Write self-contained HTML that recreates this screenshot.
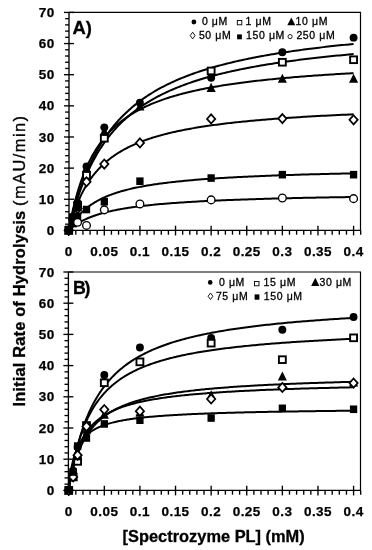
<!DOCTYPE html>
<html><head><meta charset="utf-8"><style>
html,body{margin:0;padding:0;background:#fff;width:372px;height:550px;overflow:hidden}
svg{display:block;will-change:transform}
text{font-family:"Liberation Sans",sans-serif;fill:#000}
.tl{font-weight:bold;font-size:13.5px;letter-spacing:0.45px;stroke:#000;stroke-width:0.25px}
.lg{font-size:10.5px;letter-spacing:0.6px;stroke:#000;stroke-width:0.3px}
.pl{font-weight:bold;font-size:18.4px;stroke:#000;stroke-width:0.3px}
.at{font-weight:bold;font-size:16.4px;stroke:#000;stroke-width:0.3px}
.nb{font-weight:normal;stroke-width:0.35px}
</style></head><body>
<svg width="372" height="550" viewBox="0 0 372 550">
<rect width="372" height="550" fill="#fff"/>
<path d="M69.00 12.42 H360.5 V230.40" fill="none" stroke="#000" stroke-width="1.2"/>
<line x1="69.00" y1="12.42" x2="69.00" y2="230.40" stroke="#000" stroke-width="1.35"/>
<line x1="64.00" y1="230.40" x2="74.00" y2="230.40" stroke="#000" stroke-width="1.35"/>
<line x1="65.10" y1="224.17" x2="69.00" y2="224.17" stroke="#000" stroke-width="1.35"/>
<line x1="65.10" y1="217.94" x2="69.00" y2="217.94" stroke="#000" stroke-width="1.35"/>
<line x1="65.10" y1="211.72" x2="69.00" y2="211.72" stroke="#000" stroke-width="1.35"/>
<line x1="65.10" y1="205.49" x2="69.00" y2="205.49" stroke="#000" stroke-width="1.35"/>
<line x1="64.00" y1="199.26" x2="74.00" y2="199.26" stroke="#000" stroke-width="1.35"/>
<line x1="65.10" y1="193.03" x2="69.00" y2="193.03" stroke="#000" stroke-width="1.35"/>
<line x1="65.10" y1="186.80" x2="69.00" y2="186.80" stroke="#000" stroke-width="1.35"/>
<line x1="65.10" y1="180.58" x2="69.00" y2="180.58" stroke="#000" stroke-width="1.35"/>
<line x1="65.10" y1="174.35" x2="69.00" y2="174.35" stroke="#000" stroke-width="1.35"/>
<line x1="64.00" y1="168.12" x2="74.00" y2="168.12" stroke="#000" stroke-width="1.35"/>
<line x1="65.10" y1="161.89" x2="69.00" y2="161.89" stroke="#000" stroke-width="1.35"/>
<line x1="65.10" y1="155.66" x2="69.00" y2="155.66" stroke="#000" stroke-width="1.35"/>
<line x1="65.10" y1="149.44" x2="69.00" y2="149.44" stroke="#000" stroke-width="1.35"/>
<line x1="65.10" y1="143.21" x2="69.00" y2="143.21" stroke="#000" stroke-width="1.35"/>
<line x1="64.00" y1="136.98" x2="74.00" y2="136.98" stroke="#000" stroke-width="1.35"/>
<line x1="65.10" y1="130.75" x2="69.00" y2="130.75" stroke="#000" stroke-width="1.35"/>
<line x1="65.10" y1="124.52" x2="69.00" y2="124.52" stroke="#000" stroke-width="1.35"/>
<line x1="65.10" y1="118.30" x2="69.00" y2="118.30" stroke="#000" stroke-width="1.35"/>
<line x1="65.10" y1="112.07" x2="69.00" y2="112.07" stroke="#000" stroke-width="1.35"/>
<line x1="64.00" y1="105.84" x2="74.00" y2="105.84" stroke="#000" stroke-width="1.35"/>
<line x1="65.10" y1="99.61" x2="69.00" y2="99.61" stroke="#000" stroke-width="1.35"/>
<line x1="65.10" y1="93.38" x2="69.00" y2="93.38" stroke="#000" stroke-width="1.35"/>
<line x1="65.10" y1="87.16" x2="69.00" y2="87.16" stroke="#000" stroke-width="1.35"/>
<line x1="65.10" y1="80.93" x2="69.00" y2="80.93" stroke="#000" stroke-width="1.35"/>
<line x1="64.00" y1="74.70" x2="74.00" y2="74.70" stroke="#000" stroke-width="1.35"/>
<line x1="65.10" y1="68.47" x2="69.00" y2="68.47" stroke="#000" stroke-width="1.35"/>
<line x1="65.10" y1="62.24" x2="69.00" y2="62.24" stroke="#000" stroke-width="1.35"/>
<line x1="65.10" y1="56.02" x2="69.00" y2="56.02" stroke="#000" stroke-width="1.35"/>
<line x1="65.10" y1="49.79" x2="69.00" y2="49.79" stroke="#000" stroke-width="1.35"/>
<line x1="64.00" y1="43.56" x2="74.00" y2="43.56" stroke="#000" stroke-width="1.35"/>
<line x1="65.10" y1="37.33" x2="69.00" y2="37.33" stroke="#000" stroke-width="1.35"/>
<line x1="65.10" y1="31.10" x2="69.00" y2="31.10" stroke="#000" stroke-width="1.35"/>
<line x1="65.10" y1="24.88" x2="69.00" y2="24.88" stroke="#000" stroke-width="1.35"/>
<line x1="65.10" y1="18.65" x2="69.00" y2="18.65" stroke="#000" stroke-width="1.35"/>
<line x1="64.00" y1="12.42" x2="74.00" y2="12.42" stroke="#000" stroke-width="1.35"/>
<line x1="69.00" y1="230.40" x2="360.70" y2="230.40" stroke="#000" stroke-width="1.35"/>
<line x1="68.70" y1="225.70" x2="68.70" y2="235.40" stroke="#000" stroke-width="1.35"/>
<line x1="75.82" y1="230.40" x2="75.82" y2="234.70" stroke="#000" stroke-width="1.35"/>
<line x1="82.94" y1="230.40" x2="82.94" y2="234.70" stroke="#000" stroke-width="1.35"/>
<line x1="90.07" y1="230.40" x2="90.07" y2="234.70" stroke="#000" stroke-width="1.35"/>
<line x1="97.19" y1="230.40" x2="97.19" y2="234.70" stroke="#000" stroke-width="1.35"/>
<line x1="104.31" y1="225.70" x2="104.31" y2="235.40" stroke="#000" stroke-width="1.35"/>
<line x1="111.43" y1="230.40" x2="111.43" y2="234.70" stroke="#000" stroke-width="1.35"/>
<line x1="118.55" y1="230.40" x2="118.55" y2="234.70" stroke="#000" stroke-width="1.35"/>
<line x1="125.68" y1="230.40" x2="125.68" y2="234.70" stroke="#000" stroke-width="1.35"/>
<line x1="132.80" y1="230.40" x2="132.80" y2="234.70" stroke="#000" stroke-width="1.35"/>
<line x1="139.92" y1="225.70" x2="139.92" y2="235.40" stroke="#000" stroke-width="1.35"/>
<line x1="147.04" y1="230.40" x2="147.04" y2="234.70" stroke="#000" stroke-width="1.35"/>
<line x1="154.16" y1="230.40" x2="154.16" y2="234.70" stroke="#000" stroke-width="1.35"/>
<line x1="161.29" y1="230.40" x2="161.29" y2="234.70" stroke="#000" stroke-width="1.35"/>
<line x1="168.41" y1="230.40" x2="168.41" y2="234.70" stroke="#000" stroke-width="1.35"/>
<line x1="175.53" y1="225.70" x2="175.53" y2="235.40" stroke="#000" stroke-width="1.35"/>
<line x1="182.65" y1="230.40" x2="182.65" y2="234.70" stroke="#000" stroke-width="1.35"/>
<line x1="189.77" y1="230.40" x2="189.77" y2="234.70" stroke="#000" stroke-width="1.35"/>
<line x1="196.90" y1="230.40" x2="196.90" y2="234.70" stroke="#000" stroke-width="1.35"/>
<line x1="204.02" y1="230.40" x2="204.02" y2="234.70" stroke="#000" stroke-width="1.35"/>
<line x1="211.14" y1="225.70" x2="211.14" y2="235.40" stroke="#000" stroke-width="1.35"/>
<line x1="218.26" y1="230.40" x2="218.26" y2="234.70" stroke="#000" stroke-width="1.35"/>
<line x1="225.38" y1="230.40" x2="225.38" y2="234.70" stroke="#000" stroke-width="1.35"/>
<line x1="232.51" y1="230.40" x2="232.51" y2="234.70" stroke="#000" stroke-width="1.35"/>
<line x1="239.63" y1="230.40" x2="239.63" y2="234.70" stroke="#000" stroke-width="1.35"/>
<line x1="246.75" y1="225.70" x2="246.75" y2="235.40" stroke="#000" stroke-width="1.35"/>
<line x1="253.87" y1="230.40" x2="253.87" y2="234.70" stroke="#000" stroke-width="1.35"/>
<line x1="260.99" y1="230.40" x2="260.99" y2="234.70" stroke="#000" stroke-width="1.35"/>
<line x1="268.12" y1="230.40" x2="268.12" y2="234.70" stroke="#000" stroke-width="1.35"/>
<line x1="275.24" y1="230.40" x2="275.24" y2="234.70" stroke="#000" stroke-width="1.35"/>
<line x1="282.36" y1="225.70" x2="282.36" y2="235.40" stroke="#000" stroke-width="1.35"/>
<line x1="289.48" y1="230.40" x2="289.48" y2="234.70" stroke="#000" stroke-width="1.35"/>
<line x1="296.60" y1="230.40" x2="296.60" y2="234.70" stroke="#000" stroke-width="1.35"/>
<line x1="303.73" y1="230.40" x2="303.73" y2="234.70" stroke="#000" stroke-width="1.35"/>
<line x1="310.85" y1="230.40" x2="310.85" y2="234.70" stroke="#000" stroke-width="1.35"/>
<line x1="317.97" y1="225.70" x2="317.97" y2="235.40" stroke="#000" stroke-width="1.35"/>
<line x1="325.09" y1="230.40" x2="325.09" y2="234.70" stroke="#000" stroke-width="1.35"/>
<line x1="332.21" y1="230.40" x2="332.21" y2="234.70" stroke="#000" stroke-width="1.35"/>
<line x1="339.34" y1="230.40" x2="339.34" y2="234.70" stroke="#000" stroke-width="1.35"/>
<line x1="346.46" y1="230.40" x2="346.46" y2="234.70" stroke="#000" stroke-width="1.35"/>
<line x1="353.58" y1="225.70" x2="353.58" y2="235.40" stroke="#000" stroke-width="1.35"/>
<line x1="360.70" y1="230.40" x2="360.70" y2="234.70" stroke="#000" stroke-width="1.35"/>
<text class="tl" x="54.6" y="235.00" text-anchor="end">0</text>
<text class="tl" x="54.6" y="203.86" text-anchor="end">10</text>
<text class="tl" x="54.6" y="172.72" text-anchor="end">20</text>
<text class="tl" x="54.6" y="141.58" text-anchor="end">30</text>
<text class="tl" x="54.6" y="110.44" text-anchor="end">40</text>
<text class="tl" x="54.6" y="79.30" text-anchor="end">50</text>
<text class="tl" x="54.6" y="48.16" text-anchor="end">60</text>
<text class="tl" x="54.6" y="17.02" text-anchor="end">70</text>
<text class="tl" x="68.70" y="255.90" text-anchor="middle">0</text>
<text class="tl" x="104.31" y="255.90" text-anchor="middle">0.05</text>
<text class="tl" x="139.92" y="255.90" text-anchor="middle">0.1</text>
<text class="tl" x="175.53" y="255.90" text-anchor="middle">0.15</text>
<text class="tl" x="211.14" y="255.90" text-anchor="middle">0.2</text>
<text class="tl" x="246.75" y="255.90" text-anchor="middle">0.25</text>
<text class="tl" x="282.36" y="255.90" text-anchor="middle">0.3</text>
<text class="tl" x="317.97" y="255.90" text-anchor="middle">0.35</text>
<text class="tl" x="353.58" y="255.90" text-anchor="middle">0.4</text>
<path d="M68.70 230.40 L68.70 230.38 L68.72 230.31 L68.74 230.20 L68.78 230.05 L68.82 229.85 L68.88 229.61 L68.94 229.33 L69.02 229.00 L69.10 228.63 L69.19 228.22 L69.30 227.77 L69.41 227.28 L69.54 226.75 L69.67 226.18 L69.81 225.56 L69.97 224.92 L70.13 224.23 L70.30 223.50 L70.49 222.74 L70.68 221.95 L70.88 221.12 L71.09 220.26 L71.32 219.36 L71.55 218.43 L71.79 217.48 L72.04 216.49 L72.31 215.47 L72.58 214.43 L72.86 213.36 L73.15 212.26 L73.45 211.14 L73.76 210.00 L74.09 208.83 L74.42 207.64 L74.76 206.43 L75.11 205.20 L75.47 203.95 L75.84 202.69 L76.22 201.41 L76.61 200.11 L77.01 198.80 L77.42 197.47 L77.84 196.13 L78.28 194.78 L78.72 193.42 L79.17 192.05 L79.63 190.67 L80.10 189.29 L80.57 187.89 L81.06 186.49 L81.56 185.09 L82.07 183.67 L82.59 182.26 L83.12 180.84 L83.66 179.42 L84.21 178.00 L84.77 176.57 L85.34 175.15 L85.92 173.73 L86.51 172.30 L87.10 170.88 L87.71 169.46 L88.33 168.05 L88.96 166.63 L89.60 165.22 L90.24 163.82 L90.90 162.42 L91.57 161.02 L92.25 159.63 L92.93 158.25 L93.63 156.87 L94.34 155.50 L95.06 154.13 L95.78 152.78 L96.52 151.43 L97.27 150.09 L98.02 148.75 L98.79 147.43 L99.57 146.11 L100.35 144.81 L101.15 143.51 L101.96 142.22 L102.77 140.94 L103.60 139.67 L104.43 138.41 L105.28 137.16 L106.14 135.93 L107.00 134.70 L107.88 133.48 L108.76 132.27 L109.66 131.08 L110.56 129.89 L111.48 128.71 L112.40 127.55 L113.34 126.40 L114.28 125.25 L115.24 124.12 L116.20 123.00 L117.17 121.89 L118.16 120.79 L119.15 119.70 L120.16 118.63 L121.17 117.56 L122.19 116.51 L123.23 115.46 L124.27 114.43 L125.32 113.41 L126.39 112.40 L127.46 111.40 L128.54 110.41 L129.64 109.43 L130.74 108.46 L131.85 107.50 L132.98 106.55 L134.11 105.62 L135.25 104.69 L136.40 103.77 L137.57 102.87 L138.74 101.97 L139.92 101.09 L141.11 100.21 L142.31 99.34 L143.53 98.49 L144.75 97.64 L145.98 96.81 L147.22 95.98 L148.47 95.16 L149.73 94.35 L151.00 93.55 L152.28 92.77 L153.58 91.99 L154.88 91.21 L156.19 90.45 L157.51 89.70 L158.84 88.95 L160.18 88.22 L161.53 87.49 L162.89 86.77 L164.26 86.06 L165.64 85.36 L167.03 84.67 L168.43 83.98 L169.84 83.30 L171.26 82.64 L172.69 81.97 L174.13 81.32 L175.57 80.67 L177.03 80.04 L178.50 79.40 L179.98 78.78 L181.47 78.16 L182.97 77.56 L184.48 76.95 L186.00 76.36 L187.52 75.77 L189.06 75.19 L190.61 74.62 L192.17 74.05 L193.74 73.49 L195.31 72.93 L196.90 72.39 L198.50 71.84 L200.11 71.31 L201.72 70.78 L203.35 70.26 L204.99 69.74 L206.63 69.23 L208.29 68.73 L209.96 68.23 L211.63 67.73 L213.32 67.25 L215.02 66.77 L216.72 66.29 L218.44 65.82 L220.17 65.35 L221.90 64.89 L223.65 64.44 L225.40 63.99 L227.17 63.55 L228.94 63.11 L230.73 62.67 L232.53 62.24 L234.33 61.82 L236.15 61.40 L237.97 60.98 L239.81 60.57 L241.65 60.17 L243.51 59.77 L245.37 59.37 L247.24 58.98 L249.13 58.59 L251.02 58.21 L252.93 57.83 L254.84 57.45 L256.77 57.08 L258.70 56.72 L260.64 56.35 L262.60 55.99 L264.56 55.64 L266.53 55.29 L268.52 54.94 L270.51 54.60 L272.51 54.26 L274.53 53.92 L276.55 53.59 L278.58 53.26 L280.62 52.94 L282.68 52.62 L284.74 52.30 L286.81 51.98 L288.89 51.67 L290.99 51.37 L293.09 51.06 L295.20 50.76 L297.32 50.46 L299.45 50.17 L301.59 49.88 L303.75 49.59 L305.91 49.30 L308.08 49.02 L310.26 48.74 L312.45 48.46 L314.65 48.19 L316.86 47.92 L319.08 47.65 L321.31 47.38 L323.55 47.12 L325.80 46.86 L328.06 46.60 L330.33 46.35 L332.61 46.10 L334.90 45.85 L337.20 45.60 L339.51 45.36 L341.83 45.11 L344.16 44.87 L346.50 44.64 L348.85 44.40 L351.21 44.17 L353.58 43.94" fill="none" stroke="#000" stroke-width="2.0" stroke-linejoin="round"/>
<path d="M68.70 230.40 L68.70 230.38 L68.72 230.32 L68.74 230.21 L68.78 230.06 L68.82 229.87 L68.88 229.64 L68.94 229.37 L69.02 229.05 L69.10 228.70 L69.19 228.30 L69.30 227.87 L69.41 227.39 L69.54 226.88 L69.67 226.33 L69.81 225.74 L69.97 225.11 L70.13 224.45 L70.30 223.75 L70.49 223.02 L70.68 222.25 L70.88 221.46 L71.09 220.62 L71.32 219.76 L71.55 218.87 L71.79 217.95 L72.04 217.00 L72.31 216.02 L72.58 215.02 L72.86 213.99 L73.15 212.94 L73.45 211.86 L73.76 210.76 L74.09 209.64 L74.42 208.50 L74.76 207.33 L75.11 206.15 L75.47 204.96 L75.84 203.74 L76.22 202.52 L76.61 201.27 L77.01 200.01 L77.42 198.74 L77.84 197.46 L78.28 196.17 L78.72 194.87 L79.17 193.56 L79.63 192.24 L80.10 190.91 L80.57 189.58 L81.06 188.24 L81.56 186.89 L82.07 185.55 L82.59 184.20 L83.12 182.84 L83.66 181.49 L84.21 180.13 L84.77 178.77 L85.34 177.41 L85.92 176.06 L86.51 174.70 L87.10 173.35 L87.71 172.00 L88.33 170.65 L88.96 169.30 L89.60 167.96 L90.24 166.62 L90.90 165.29 L91.57 163.97 L92.25 162.64 L92.93 161.33 L93.63 160.02 L94.34 158.72 L95.06 157.42 L95.78 156.14 L96.52 154.86 L97.27 153.58 L98.02 152.32 L98.79 151.06 L99.57 149.82 L100.35 148.58 L101.15 147.35 L101.96 146.13 L102.77 144.92 L103.60 143.72 L104.43 142.53 L105.28 141.35 L106.14 140.18 L107.00 139.02 L107.88 137.87 L108.76 136.73 L109.66 135.59 L110.56 134.48 L111.48 133.37 L112.40 132.27 L113.34 131.18 L114.28 130.10 L115.24 129.03 L116.20 127.98 L117.17 126.93 L118.16 125.89 L119.15 124.87 L120.16 123.86 L121.17 122.85 L122.19 121.86 L123.23 120.88 L124.27 119.90 L125.32 118.94 L126.39 117.99 L127.46 117.05 L128.54 116.12 L129.64 115.20 L130.74 114.29 L131.85 113.39 L132.98 112.50 L134.11 111.62 L135.25 110.75 L136.40 109.89 L137.57 109.04 L138.74 108.20 L139.92 107.36 L141.11 106.54 L142.31 105.73 L143.53 104.93 L144.75 104.13 L145.98 103.35 L147.22 102.58 L148.47 101.81 L149.73 101.05 L151.00 100.30 L152.28 99.56 L153.58 98.83 L154.88 98.11 L156.19 97.40 L157.51 96.69 L158.84 96.00 L160.18 95.31 L161.53 94.63 L162.89 93.96 L164.26 93.29 L165.64 92.64 L167.03 91.99 L168.43 91.35 L169.84 90.71 L171.26 90.09 L172.69 89.47 L174.13 88.86 L175.57 88.25 L177.03 87.66 L178.50 87.07 L179.98 86.49 L181.47 85.91 L182.97 85.34 L184.48 84.78 L186.00 84.23 L187.52 83.68 L189.06 83.13 L190.61 82.60 L192.17 82.07 L193.74 81.55 L195.31 81.03 L196.90 80.52 L198.50 80.01 L200.11 79.52 L201.72 79.02 L203.35 78.54 L204.99 78.05 L206.63 77.58 L208.29 77.11 L209.96 76.64 L211.63 76.18 L213.32 75.73 L215.02 75.28 L216.72 74.84 L218.44 74.40 L220.17 73.97 L221.90 73.54 L223.65 73.11 L225.40 72.70 L227.17 72.28 L228.94 71.87 L230.73 71.47 L232.53 71.07 L234.33 70.67 L236.15 70.28 L237.97 69.90 L239.81 69.52 L241.65 69.14 L243.51 68.77 L245.37 68.40 L247.24 68.03 L249.13 67.67 L251.02 67.32 L252.93 66.96 L254.84 66.62 L256.77 66.27 L258.70 65.93 L260.64 65.59 L262.60 65.26 L264.56 64.93 L266.53 64.60 L268.52 64.28 L270.51 63.96 L272.51 63.65 L274.53 63.34 L276.55 63.03 L278.58 62.72 L280.62 62.42 L282.68 62.12 L284.74 61.83 L286.81 61.53 L288.89 61.25 L290.99 60.96 L293.09 60.68 L295.20 60.40 L297.32 60.12 L299.45 59.85 L301.59 59.58 L303.75 59.31 L305.91 59.04 L308.08 58.78 L310.26 58.52 L312.45 58.26 L314.65 58.01 L316.86 57.76 L319.08 57.51 L321.31 57.26 L323.55 57.02 L325.80 56.78 L328.06 56.54 L330.33 56.30 L332.61 56.07 L334.90 55.84 L337.20 55.61 L339.51 55.38 L341.83 55.16 L344.16 54.94 L346.50 54.72 L348.85 54.50 L351.21 54.28 L353.58 54.07" fill="none" stroke="#000" stroke-width="2.0" stroke-linejoin="round"/>
<path d="M68.70 230.40 L68.70 230.37 L68.72 230.29 L68.74 230.15 L68.78 229.96 L68.82 229.72 L68.88 229.42 L68.94 229.07 L69.02 228.67 L69.10 228.21 L69.19 227.71 L69.30 227.16 L69.41 226.55 L69.54 225.90 L69.67 225.20 L69.81 224.46 L69.97 223.67 L70.13 222.85 L70.30 221.97 L70.49 221.06 L70.68 220.11 L70.88 219.13 L71.09 218.11 L71.32 217.05 L71.55 215.96 L71.79 214.84 L72.04 213.70 L72.31 212.52 L72.58 211.32 L72.86 210.09 L73.15 208.84 L73.45 207.57 L73.76 206.28 L74.09 204.98 L74.42 203.65 L74.76 202.31 L75.11 200.96 L75.47 199.59 L75.84 198.21 L76.22 196.83 L76.61 195.43 L77.01 194.03 L77.42 192.62 L77.84 191.21 L78.28 189.80 L78.72 188.38 L79.17 186.96 L79.63 185.54 L80.10 184.12 L80.57 182.71 L81.06 181.29 L81.56 179.88 L82.07 178.48 L82.59 177.08 L83.12 175.68 L83.66 174.29 L84.21 172.91 L84.77 171.54 L85.34 170.17 L85.92 168.82 L86.51 167.47 L87.10 166.13 L87.71 164.81 L88.33 163.49 L88.96 162.18 L89.60 160.89 L90.24 159.61 L90.90 158.34 L91.57 157.08 L92.25 155.84 L92.93 154.60 L93.63 153.38 L94.34 152.18 L95.06 150.98 L95.78 149.80 L96.52 148.64 L97.27 147.49 L98.02 146.35 L98.79 145.22 L99.57 144.11 L100.35 143.01 L101.15 141.92 L101.96 140.85 L102.77 139.79 L103.60 138.75 L104.43 137.72 L105.28 136.70 L106.14 135.70 L107.00 134.71 L107.88 133.73 L108.76 132.77 L109.66 131.82 L110.56 130.88 L111.48 129.96 L112.40 129.04 L113.34 128.15 L114.28 127.26 L115.24 126.38 L116.20 125.52 L117.17 124.67 L118.16 123.84 L119.15 123.01 L120.16 122.20 L121.17 121.40 L122.19 120.61 L123.23 119.83 L124.27 119.06 L125.32 118.30 L126.39 117.56 L127.46 116.82 L128.54 116.10 L129.64 115.39 L130.74 114.68 L131.85 113.99 L132.98 113.31 L134.11 112.64 L135.25 111.97 L136.40 111.32 L137.57 110.68 L138.74 110.04 L139.92 109.42 L141.11 108.80 L142.31 108.20 L143.53 107.60 L144.75 107.01 L145.98 106.43 L147.22 105.86 L148.47 105.30 L149.73 104.74 L151.00 104.19 L152.28 103.65 L153.58 103.12 L154.88 102.60 L156.19 102.08 L157.51 101.58 L158.84 101.07 L160.18 100.58 L161.53 100.09 L162.89 99.61 L164.26 99.14 L165.64 98.67 L167.03 98.21 L168.43 97.76 L169.84 97.32 L171.26 96.87 L172.69 96.44 L174.13 96.01 L175.57 95.59 L177.03 95.18 L178.50 94.77 L179.98 94.36 L181.47 93.96 L182.97 93.57 L184.48 93.18 L186.00 92.80 L187.52 92.42 L189.06 92.05 L190.61 91.69 L192.17 91.32 L193.74 90.97 L195.31 90.62 L196.90 90.27 L198.50 89.93 L200.11 89.59 L201.72 89.26 L203.35 88.93 L204.99 88.60 L206.63 88.28 L208.29 87.97 L209.96 87.66 L211.63 87.35 L213.32 87.05 L215.02 86.75 L216.72 86.45 L218.44 86.16 L220.17 85.88 L221.90 85.59 L223.65 85.31 L225.40 85.04 L227.17 84.77 L228.94 84.50 L230.73 84.23 L232.53 83.97 L234.33 83.71 L236.15 83.45 L237.97 83.20 L239.81 82.95 L241.65 82.71 L243.51 82.47 L245.37 82.23 L247.24 81.99 L249.13 81.76 L251.02 81.53 L252.93 81.30 L254.84 81.07 L256.77 80.85 L258.70 80.63 L260.64 80.41 L262.60 80.20 L264.56 79.99 L266.53 79.78 L268.52 79.57 L270.51 79.37 L272.51 79.17 L274.53 78.97 L276.55 78.77 L278.58 78.58 L280.62 78.39 L282.68 78.20 L284.74 78.01 L286.81 77.82 L288.89 77.64 L290.99 77.46 L293.09 77.28 L295.20 77.11 L297.32 76.93 L299.45 76.76 L301.59 76.59 L303.75 76.42 L305.91 76.25 L308.08 76.09 L310.26 75.93 L312.45 75.77 L314.65 75.61 L316.86 75.45 L319.08 75.29 L321.31 75.14 L323.55 74.99 L325.80 74.84 L328.06 74.69 L330.33 74.54 L332.61 74.40 L334.90 74.25 L337.20 74.11 L339.51 73.97 L341.83 73.83 L344.16 73.69 L346.50 73.56 L348.85 73.42 L351.21 73.29 L353.58 73.16" fill="none" stroke="#000" stroke-width="2.0" stroke-linejoin="round"/>
<path d="M68.70 230.40 L68.70 230.38 L68.72 230.32 L68.74 230.22 L68.78 230.08 L68.82 229.90 L68.88 229.69 L68.94 229.43 L69.02 229.14 L69.10 228.82 L69.19 228.45 L69.30 228.05 L69.41 227.62 L69.54 227.15 L69.67 226.65 L69.81 226.12 L69.97 225.56 L70.13 224.97 L70.30 224.34 L70.49 223.69 L70.68 223.01 L70.88 222.31 L71.09 221.58 L71.32 220.82 L71.55 220.05 L71.79 219.25 L72.04 218.43 L72.31 217.59 L72.58 216.73 L72.86 215.85 L73.15 214.96 L73.45 214.05 L73.76 213.13 L74.09 212.19 L74.42 211.25 L74.76 210.29 L75.11 209.32 L75.47 208.34 L75.84 207.35 L76.22 206.36 L76.61 205.35 L77.01 204.35 L77.42 203.34 L77.84 202.32 L78.28 201.30 L78.72 200.28 L79.17 199.26 L79.63 198.24 L80.10 197.22 L80.57 196.20 L81.06 195.18 L81.56 194.16 L82.07 193.14 L82.59 192.13 L83.12 191.12 L83.66 190.11 L84.21 189.11 L84.77 188.11 L85.34 187.12 L85.92 186.14 L86.51 185.16 L87.10 184.19 L87.71 183.22 L88.33 182.26 L88.96 181.31 L89.60 180.36 L90.24 179.43 L90.90 178.50 L91.57 177.58 L92.25 176.67 L92.93 175.77 L93.63 174.87 L94.34 173.99 L95.06 173.11 L95.78 172.25 L96.52 171.39 L97.27 170.54 L98.02 169.70 L98.79 168.87 L99.57 168.05 L100.35 167.24 L101.15 166.44 L101.96 165.65 L102.77 164.87 L103.60 164.09 L104.43 163.33 L105.28 162.58 L106.14 161.83 L107.00 161.10 L107.88 160.38 L108.76 159.66 L109.66 158.95 L110.56 158.26 L111.48 157.57 L112.40 156.89 L113.34 156.22 L114.28 155.56 L115.24 154.91 L116.20 154.26 L117.17 153.63 L118.16 153.00 L119.15 152.39 L120.16 151.78 L121.17 151.18 L122.19 150.59 L123.23 150.00 L124.27 149.43 L125.32 148.86 L126.39 148.30 L127.46 147.75 L128.54 147.20 L129.64 146.67 L130.74 146.14 L131.85 145.62 L132.98 145.10 L134.11 144.60 L135.25 144.10 L136.40 143.60 L137.57 143.12 L138.74 142.64 L139.92 142.17 L141.11 141.70 L142.31 141.24 L143.53 140.79 L144.75 140.35 L145.98 139.91 L147.22 139.47 L148.47 139.05 L149.73 138.62 L151.00 138.21 L152.28 137.80 L153.58 137.40 L154.88 137.00 L156.19 136.61 L157.51 136.22 L158.84 135.84 L160.18 135.46 L161.53 135.09 L162.89 134.73 L164.26 134.37 L165.64 134.01 L167.03 133.66 L168.43 133.31 L169.84 132.97 L171.26 132.64 L172.69 132.31 L174.13 131.98 L175.57 131.66 L177.03 131.34 L178.50 131.03 L179.98 130.72 L181.47 130.41 L182.97 130.11 L184.48 129.81 L186.00 129.52 L187.52 129.23 L189.06 128.95 L190.61 128.67 L192.17 128.39 L193.74 128.11 L195.31 127.84 L196.90 127.58 L198.50 127.32 L200.11 127.06 L201.72 126.80 L203.35 126.55 L204.99 126.30 L206.63 126.05 L208.29 125.81 L209.96 125.57 L211.63 125.33 L213.32 125.10 L215.02 124.87 L216.72 124.64 L218.44 124.42 L220.17 124.20 L221.90 123.98 L223.65 123.76 L225.40 123.55 L227.17 123.34 L228.94 123.13 L230.73 122.93 L232.53 122.72 L234.33 122.52 L236.15 122.33 L237.97 122.13 L239.81 121.94 L241.65 121.75 L243.51 121.56 L245.37 121.38 L247.24 121.19 L249.13 121.01 L251.02 120.83 L252.93 120.66 L254.84 120.48 L256.77 120.31 L258.70 120.14 L260.64 119.97 L262.60 119.81 L264.56 119.64 L266.53 119.48 L268.52 119.32 L270.51 119.16 L272.51 119.01 L274.53 118.85 L276.55 118.70 L278.58 118.55 L280.62 118.40 L282.68 118.25 L284.74 118.11 L286.81 117.96 L288.89 117.82 L290.99 117.68 L293.09 117.54 L295.20 117.40 L297.32 117.27 L299.45 117.13 L301.59 117.00 L303.75 116.87 L305.91 116.74 L308.08 116.61 L310.26 116.48 L312.45 116.36 L314.65 116.23 L316.86 116.11 L319.08 115.99 L321.31 115.87 L323.55 115.75 L325.80 115.63 L328.06 115.52 L330.33 115.40 L332.61 115.29 L334.90 115.18 L337.20 115.07 L339.51 114.96 L341.83 114.85 L344.16 114.74 L346.50 114.63 L348.85 114.53 L351.21 114.43 L353.58 114.32" fill="none" stroke="#000" stroke-width="2.0" stroke-linejoin="round"/>
<path d="M68.70 230.40 L68.70 230.39 L68.72 230.36 L68.74 230.32 L68.78 230.25 L68.82 230.17 L68.88 230.07 L68.94 229.95 L69.02 229.82 L69.10 229.66 L69.19 229.49 L69.30 229.30 L69.41 229.09 L69.54 228.87 L69.67 228.63 L69.81 228.38 L69.97 228.10 L70.13 227.82 L70.30 227.52 L70.49 227.20 L70.68 226.87 L70.88 226.53 L71.09 226.18 L71.32 225.81 L71.55 225.43 L71.79 225.04 L72.04 224.64 L72.31 224.23 L72.58 223.81 L72.86 223.38 L73.15 222.94 L73.45 222.50 L73.76 222.05 L74.09 221.58 L74.42 221.12 L74.76 220.65 L75.11 220.17 L75.47 219.69 L75.84 219.20 L76.22 218.71 L76.61 218.21 L77.01 217.72 L77.42 217.22 L77.84 216.71 L78.28 216.21 L78.72 215.70 L79.17 215.20 L79.63 214.69 L80.10 214.18 L80.57 213.68 L81.06 213.17 L81.56 212.67 L82.07 212.16 L82.59 211.66 L83.12 211.16 L83.66 210.66 L84.21 210.16 L84.77 209.67 L85.34 209.17 L85.92 208.68 L86.51 208.20 L87.10 207.71 L87.71 207.23 L88.33 206.76 L88.96 206.28 L89.60 205.81 L90.24 205.35 L90.90 204.89 L91.57 204.43 L92.25 203.98 L92.93 203.53 L93.63 203.09 L94.34 202.65 L95.06 202.21 L95.78 201.78 L96.52 201.35 L97.27 200.93 L98.02 200.52 L98.79 200.10 L99.57 199.70 L100.35 199.29 L101.15 198.90 L101.96 198.50 L102.77 198.12 L103.60 197.73 L104.43 197.35 L105.28 196.98 L106.14 196.61 L107.00 196.25 L107.88 195.89 L108.76 195.53 L109.66 195.18 L110.56 194.84 L111.48 194.50 L112.40 194.16 L113.34 193.83 L114.28 193.50 L115.24 193.18 L116.20 192.86 L117.17 192.55 L118.16 192.24 L119.15 191.93 L120.16 191.63 L121.17 191.33 L122.19 191.04 L123.23 190.75 L124.27 190.47 L125.32 190.19 L126.39 189.91 L127.46 189.64 L128.54 189.37 L129.64 189.11 L130.74 188.85 L131.85 188.59 L132.98 188.34 L134.11 188.09 L135.25 187.84 L136.40 187.60 L137.57 187.36 L138.74 187.12 L139.92 186.89 L141.11 186.66 L142.31 186.44 L143.53 186.21 L144.75 185.99 L145.98 185.78 L147.22 185.56 L148.47 185.35 L149.73 185.15 L151.00 184.94 L152.28 184.74 L153.58 184.55 L154.88 184.35 L156.19 184.16 L157.51 183.97 L158.84 183.78 L160.18 183.60 L161.53 183.41 L162.89 183.24 L164.26 183.06 L165.64 182.89 L167.03 182.71 L168.43 182.54 L169.84 182.38 L171.26 182.21 L172.69 182.05 L174.13 181.89 L175.57 181.73 L177.03 181.58 L178.50 181.43 L179.98 181.27 L181.47 181.13 L182.97 180.98 L184.48 180.83 L186.00 180.69 L187.52 180.55 L189.06 180.41 L190.61 180.27 L192.17 180.14 L193.74 180.00 L195.31 179.87 L196.90 179.74 L198.50 179.62 L200.11 179.49 L201.72 179.36 L203.35 179.24 L204.99 179.12 L206.63 179.00 L208.29 178.88 L209.96 178.77 L211.63 178.65 L213.32 178.54 L215.02 178.43 L216.72 178.32 L218.44 178.21 L220.17 178.10 L221.90 177.99 L223.65 177.89 L225.40 177.78 L227.17 177.68 L228.94 177.58 L230.73 177.48 L232.53 177.38 L234.33 177.29 L236.15 177.19 L237.97 177.10 L239.81 177.00 L241.65 176.91 L243.51 176.82 L245.37 176.73 L247.24 176.64 L249.13 176.55 L251.02 176.47 L252.93 176.38 L254.84 176.30 L256.77 176.21 L258.70 176.13 L260.64 176.05 L262.60 175.97 L264.56 175.89 L266.53 175.81 L268.52 175.74 L270.51 175.66 L272.51 175.58 L274.53 175.51 L276.55 175.44 L278.58 175.36 L280.62 175.29 L282.68 175.22 L284.74 175.15 L286.81 175.08 L288.89 175.01 L290.99 174.94 L293.09 174.88 L295.20 174.81 L297.32 174.75 L299.45 174.68 L301.59 174.62 L303.75 174.55 L305.91 174.49 L308.08 174.43 L310.26 174.37 L312.45 174.31 L314.65 174.25 L316.86 174.19 L319.08 174.13 L321.31 174.07 L323.55 174.02 L325.80 173.96 L328.06 173.90 L330.33 173.85 L332.61 173.79 L334.90 173.74 L337.20 173.69 L339.51 173.63 L341.83 173.58 L344.16 173.53 L346.50 173.48 L348.85 173.43 L351.21 173.38 L353.58 173.33" fill="none" stroke="#000" stroke-width="2.0" stroke-linejoin="round"/>
<path d="M68.70 230.40 L68.70 230.39 L68.72 230.38 L68.74 230.35 L68.78 230.32 L68.82 230.27 L68.88 230.22 L68.94 230.15 L69.02 230.08 L69.10 230.00 L69.19 229.91 L69.30 229.81 L69.41 229.70 L69.54 229.59 L69.67 229.46 L69.81 229.33 L69.97 229.19 L70.13 229.04 L70.30 228.89 L70.49 228.73 L70.68 228.56 L70.88 228.38 L71.09 228.20 L71.32 228.02 L71.55 227.82 L71.79 227.62 L72.04 227.42 L72.31 227.21 L72.58 226.99 L72.86 226.78 L73.15 226.55 L73.45 226.32 L73.76 226.09 L74.09 225.85 L74.42 225.62 L74.76 225.37 L75.11 225.13 L75.47 224.88 L75.84 224.63 L76.22 224.37 L76.61 224.11 L77.01 223.86 L77.42 223.60 L77.84 223.33 L78.28 223.07 L78.72 222.81 L79.17 222.54 L79.63 222.27 L80.10 222.01 L80.57 221.74 L81.06 221.47 L81.56 221.20 L82.07 220.93 L82.59 220.66 L83.12 220.39 L83.66 220.12 L84.21 219.86 L84.77 219.59 L85.34 219.32 L85.92 219.06 L86.51 218.79 L87.10 218.53 L87.71 218.26 L88.33 218.00 L88.96 217.74 L89.60 217.48 L90.24 217.22 L90.90 216.97 L91.57 216.71 L92.25 216.46 L92.93 216.21 L93.63 215.96 L94.34 215.71 L95.06 215.46 L95.78 215.22 L96.52 214.97 L97.27 214.73 L98.02 214.49 L98.79 214.26 L99.57 214.02 L100.35 213.79 L101.15 213.56 L101.96 213.33 L102.77 213.11 L103.60 212.88 L104.43 212.66 L105.28 212.44 L106.14 212.22 L107.00 212.01 L107.88 211.80 L108.76 211.58 L109.66 211.38 L110.56 211.17 L111.48 210.97 L112.40 210.76 L113.34 210.56 L114.28 210.37 L115.24 210.17 L116.20 209.98 L117.17 209.79 L118.16 209.60 L119.15 209.41 L120.16 209.23 L121.17 209.05 L122.19 208.87 L123.23 208.69 L124.27 208.51 L125.32 208.34 L126.39 208.17 L127.46 208.00 L128.54 207.83 L129.64 207.66 L130.74 207.50 L131.85 207.34 L132.98 207.18 L134.11 207.02 L135.25 206.87 L136.40 206.71 L137.57 206.56 L138.74 206.41 L139.92 206.26 L141.11 206.11 L142.31 205.97 L143.53 205.83 L144.75 205.69 L145.98 205.55 L147.22 205.41 L148.47 205.27 L149.73 205.14 L151.00 205.01 L152.28 204.88 L153.58 204.75 L154.88 204.62 L156.19 204.49 L157.51 204.37 L158.84 204.25 L160.18 204.12 L161.53 204.00 L162.89 203.89 L164.26 203.77 L165.64 203.65 L167.03 203.54 L168.43 203.43 L169.84 203.32 L171.26 203.21 L172.69 203.10 L174.13 202.99 L175.57 202.89 L177.03 202.78 L178.50 202.68 L179.98 202.58 L181.47 202.48 L182.97 202.38 L184.48 202.28 L186.00 202.18 L187.52 202.09 L189.06 201.99 L190.61 201.90 L192.17 201.81 L193.74 201.72 L195.31 201.63 L196.90 201.54 L198.50 201.45 L200.11 201.36 L201.72 201.28 L203.35 201.19 L204.99 201.11 L206.63 201.03 L208.29 200.94 L209.96 200.86 L211.63 200.78 L213.32 200.71 L215.02 200.63 L216.72 200.55 L218.44 200.48 L220.17 200.40 L221.90 200.33 L223.65 200.25 L225.40 200.18 L227.17 200.11 L228.94 200.04 L230.73 199.97 L232.53 199.90 L234.33 199.83 L236.15 199.76 L237.97 199.70 L239.81 199.63 L241.65 199.57 L243.51 199.50 L245.37 199.44 L247.24 199.38 L249.13 199.31 L251.02 199.25 L252.93 199.19 L254.84 199.13 L256.77 199.07 L258.70 199.01 L260.64 198.96 L262.60 198.90 L264.56 198.84 L266.53 198.78 L268.52 198.73 L270.51 198.67 L272.51 198.62 L274.53 198.57 L276.55 198.51 L278.58 198.46 L280.62 198.41 L282.68 198.36 L284.74 198.31 L286.81 198.26 L288.89 198.21 L290.99 198.16 L293.09 198.11 L295.20 198.06 L297.32 198.01 L299.45 197.97 L301.59 197.92 L303.75 197.87 L305.91 197.83 L308.08 197.78 L310.26 197.74 L312.45 197.70 L314.65 197.65 L316.86 197.61 L319.08 197.57 L321.31 197.52 L323.55 197.48 L325.80 197.44 L328.06 197.40 L330.33 197.36 L332.61 197.32 L334.90 197.28 L337.20 197.24 L339.51 197.20 L341.83 197.16 L344.16 197.13 L346.50 197.09 L348.85 197.05 L351.21 197.01 L353.58 196.98" fill="none" stroke="#000" stroke-width="2.0" stroke-linejoin="round"/>
<rect x="65.25" y="227.05" width="6.9" height="6.7" fill="#fff" stroke="#000" stroke-width="1.9"/>
<rect x="69.70" y="214.59" width="6.9" height="6.7" fill="#fff" stroke="#000" stroke-width="1.9"/>
<rect x="74.15" y="202.14" width="6.9" height="6.7" fill="#fff" stroke="#000" stroke-width="1.9"/>
<path d="M86.51 163.12L91.06 172.22L81.96 172.22Z" fill="#000"/>
<path d="M68.70 225.85L72.85 230.40L68.70 234.95L64.55 230.40Z" fill="#fff" stroke="#000" stroke-width="1.7"/>
<path d="M73.15 214.95L77.30 219.50L73.15 224.05L69.00 219.50Z" fill="#fff" stroke="#000" stroke-width="1.7"/>
<path d="M77.60 204.05L81.75 208.60L77.60 213.15L73.45 208.60Z" fill="#fff" stroke="#000" stroke-width="1.7"/>
<circle cx="68.70" cy="230.40" r="3.95" fill="#000"/>
<circle cx="73.15" cy="216.39" r="3.95" fill="#000"/>
<circle cx="77.60" cy="202.69" r="3.95" fill="#000"/>
<circle cx="86.51" cy="166.56" r="3.95" fill="#000"/>
<circle cx="104.31" cy="127.33" r="3.95" fill="#000"/>
<circle cx="139.92" cy="102.73" r="3.95" fill="#000"/>
<circle cx="211.14" cy="77.81" r="3.95" fill="#000"/>
<circle cx="282.36" cy="52.28" r="3.95" fill="#000"/>
<circle cx="353.58" cy="37.64" r="3.95" fill="#000"/>
<rect x="83.06" y="171.93" width="6.9" height="6.7" fill="#fff" stroke="#000" stroke-width="1.9"/>
<rect x="100.86" y="134.88" width="6.9" height="6.7" fill="#fff" stroke="#000" stroke-width="1.9"/>
<rect x="207.69" y="67.61" width="6.9" height="6.7" fill="#fff" stroke="#000" stroke-width="1.9"/>
<rect x="278.91" y="58.89" width="6.9" height="6.7" fill="#fff" stroke="#000" stroke-width="1.9"/>
<rect x="350.13" y="56.40" width="6.9" height="6.7" fill="#fff" stroke="#000" stroke-width="1.9"/>
<path d="M68.70 225.40L73.25 234.50L64.15 234.50Z" fill="#000"/>
<path d="M73.15 212.94L77.70 222.04L68.60 222.04Z" fill="#000"/>
<path d="M77.60 202.05L82.15 211.15L73.05 211.15Z" fill="#000"/>
<path d="M104.31 126.37L108.86 135.47L99.76 135.47Z" fill="#000"/>
<path d="M139.92 101.46L144.47 110.56L135.37 110.56Z" fill="#000"/>
<path d="M211.14 82.78L215.69 91.88L206.59 91.88Z" fill="#000"/>
<path d="M282.36 73.75L286.91 82.85L277.81 82.85Z" fill="#000"/>
<path d="M353.58 73.75L358.13 82.85L349.03 82.85Z" fill="#000"/>
<path d="M86.51 177.27L90.66 181.82L86.51 186.37L82.36 181.82Z" fill="#fff" stroke="#000" stroke-width="1.7"/>
<path d="M104.31 159.52L108.46 164.07L104.31 168.62L100.16 164.07Z" fill="#fff" stroke="#000" stroke-width="1.7"/>
<path d="M139.92 138.35L144.07 142.90L139.92 147.45L135.77 142.90Z" fill="#fff" stroke="#000" stroke-width="1.7"/>
<path d="M211.14 114.37L215.29 118.92L211.14 123.47L206.99 118.92Z" fill="#fff" stroke="#000" stroke-width="1.7"/>
<path d="M282.36 114.06L286.51 118.61L282.36 123.16L278.21 118.61Z" fill="#fff" stroke="#000" stroke-width="1.7"/>
<path d="M353.58 115.30L357.73 119.85L353.58 124.40L349.43 119.85Z" fill="#fff" stroke="#000" stroke-width="1.7"/>
<rect x="65.05" y="225.67" width="7.3" height="7.6" fill="#000"/>
<rect x="69.50" y="219.75" width="7.3" height="7.6" fill="#000"/>
<rect x="73.95" y="212.59" width="7.3" height="7.6" fill="#000"/>
<rect x="82.86" y="205.74" width="7.3" height="7.6" fill="#000"/>
<rect x="100.66" y="197.95" width="7.3" height="7.6" fill="#000"/>
<rect x="136.27" y="177.40" width="7.3" height="7.6" fill="#000"/>
<rect x="207.49" y="174.28" width="7.3" height="7.6" fill="#000"/>
<rect x="278.71" y="170.86" width="7.3" height="7.6" fill="#000"/>
<rect x="349.93" y="170.86" width="7.3" height="7.6" fill="#000"/>
<circle cx="77.60" cy="222.30" r="3.85" fill="#fff" stroke="#000" stroke-width="1.35"/>
<circle cx="86.51" cy="225.42" r="3.85" fill="#fff" stroke="#000" stroke-width="1.35"/>
<circle cx="104.31" cy="209.85" r="3.85" fill="#fff" stroke="#000" stroke-width="1.35"/>
<circle cx="139.92" cy="203.93" r="3.85" fill="#fff" stroke="#000" stroke-width="1.35"/>
<circle cx="211.14" cy="199.88" r="3.85" fill="#fff" stroke="#000" stroke-width="1.35"/>
<circle cx="282.36" cy="198.01" r="3.85" fill="#fff" stroke="#000" stroke-width="1.35"/>
<circle cx="353.58" cy="198.64" r="3.85" fill="#fff" stroke="#000" stroke-width="1.35"/>
<path d="M68.40 272.00 H360.5 V490.40" fill="none" stroke="#000" stroke-width="1.2"/>
<line x1="68.40" y1="272.00" x2="68.40" y2="490.40" stroke="#000" stroke-width="1.35"/>
<line x1="63.40" y1="490.40" x2="73.40" y2="490.40" stroke="#000" stroke-width="1.35"/>
<line x1="64.50" y1="484.16" x2="68.40" y2="484.16" stroke="#000" stroke-width="1.35"/>
<line x1="64.50" y1="477.92" x2="68.40" y2="477.92" stroke="#000" stroke-width="1.35"/>
<line x1="64.50" y1="471.68" x2="68.40" y2="471.68" stroke="#000" stroke-width="1.35"/>
<line x1="64.50" y1="465.44" x2="68.40" y2="465.44" stroke="#000" stroke-width="1.35"/>
<line x1="63.40" y1="459.20" x2="73.40" y2="459.20" stroke="#000" stroke-width="1.35"/>
<line x1="64.50" y1="452.96" x2="68.40" y2="452.96" stroke="#000" stroke-width="1.35"/>
<line x1="64.50" y1="446.72" x2="68.40" y2="446.72" stroke="#000" stroke-width="1.35"/>
<line x1="64.50" y1="440.48" x2="68.40" y2="440.48" stroke="#000" stroke-width="1.35"/>
<line x1="64.50" y1="434.24" x2="68.40" y2="434.24" stroke="#000" stroke-width="1.35"/>
<line x1="63.40" y1="428.00" x2="73.40" y2="428.00" stroke="#000" stroke-width="1.35"/>
<line x1="64.50" y1="421.76" x2="68.40" y2="421.76" stroke="#000" stroke-width="1.35"/>
<line x1="64.50" y1="415.52" x2="68.40" y2="415.52" stroke="#000" stroke-width="1.35"/>
<line x1="64.50" y1="409.28" x2="68.40" y2="409.28" stroke="#000" stroke-width="1.35"/>
<line x1="64.50" y1="403.04" x2="68.40" y2="403.04" stroke="#000" stroke-width="1.35"/>
<line x1="63.40" y1="396.80" x2="73.40" y2="396.80" stroke="#000" stroke-width="1.35"/>
<line x1="64.50" y1="390.56" x2="68.40" y2="390.56" stroke="#000" stroke-width="1.35"/>
<line x1="64.50" y1="384.32" x2="68.40" y2="384.32" stroke="#000" stroke-width="1.35"/>
<line x1="64.50" y1="378.08" x2="68.40" y2="378.08" stroke="#000" stroke-width="1.35"/>
<line x1="64.50" y1="371.84" x2="68.40" y2="371.84" stroke="#000" stroke-width="1.35"/>
<line x1="63.40" y1="365.60" x2="73.40" y2="365.60" stroke="#000" stroke-width="1.35"/>
<line x1="64.50" y1="359.36" x2="68.40" y2="359.36" stroke="#000" stroke-width="1.35"/>
<line x1="64.50" y1="353.12" x2="68.40" y2="353.12" stroke="#000" stroke-width="1.35"/>
<line x1="64.50" y1="346.88" x2="68.40" y2="346.88" stroke="#000" stroke-width="1.35"/>
<line x1="64.50" y1="340.64" x2="68.40" y2="340.64" stroke="#000" stroke-width="1.35"/>
<line x1="63.40" y1="334.40" x2="73.40" y2="334.40" stroke="#000" stroke-width="1.35"/>
<line x1="64.50" y1="328.16" x2="68.40" y2="328.16" stroke="#000" stroke-width="1.35"/>
<line x1="64.50" y1="321.92" x2="68.40" y2="321.92" stroke="#000" stroke-width="1.35"/>
<line x1="64.50" y1="315.68" x2="68.40" y2="315.68" stroke="#000" stroke-width="1.35"/>
<line x1="64.50" y1="309.44" x2="68.40" y2="309.44" stroke="#000" stroke-width="1.35"/>
<line x1="63.40" y1="303.20" x2="73.40" y2="303.20" stroke="#000" stroke-width="1.35"/>
<line x1="64.50" y1="296.96" x2="68.40" y2="296.96" stroke="#000" stroke-width="1.35"/>
<line x1="64.50" y1="290.72" x2="68.40" y2="290.72" stroke="#000" stroke-width="1.35"/>
<line x1="64.50" y1="284.48" x2="68.40" y2="284.48" stroke="#000" stroke-width="1.35"/>
<line x1="64.50" y1="278.24" x2="68.40" y2="278.24" stroke="#000" stroke-width="1.35"/>
<line x1="63.40" y1="272.00" x2="73.40" y2="272.00" stroke="#000" stroke-width="1.35"/>
<line x1="68.40" y1="490.40" x2="360.70" y2="490.40" stroke="#000" stroke-width="1.35"/>
<line x1="68.70" y1="485.70" x2="68.70" y2="495.40" stroke="#000" stroke-width="1.35"/>
<line x1="75.82" y1="490.40" x2="75.82" y2="494.70" stroke="#000" stroke-width="1.35"/>
<line x1="82.94" y1="490.40" x2="82.94" y2="494.70" stroke="#000" stroke-width="1.35"/>
<line x1="90.07" y1="490.40" x2="90.07" y2="494.70" stroke="#000" stroke-width="1.35"/>
<line x1="97.19" y1="490.40" x2="97.19" y2="494.70" stroke="#000" stroke-width="1.35"/>
<line x1="104.31" y1="485.70" x2="104.31" y2="495.40" stroke="#000" stroke-width="1.35"/>
<line x1="111.43" y1="490.40" x2="111.43" y2="494.70" stroke="#000" stroke-width="1.35"/>
<line x1="118.55" y1="490.40" x2="118.55" y2="494.70" stroke="#000" stroke-width="1.35"/>
<line x1="125.68" y1="490.40" x2="125.68" y2="494.70" stroke="#000" stroke-width="1.35"/>
<line x1="132.80" y1="490.40" x2="132.80" y2="494.70" stroke="#000" stroke-width="1.35"/>
<line x1="139.92" y1="485.70" x2="139.92" y2="495.40" stroke="#000" stroke-width="1.35"/>
<line x1="147.04" y1="490.40" x2="147.04" y2="494.70" stroke="#000" stroke-width="1.35"/>
<line x1="154.16" y1="490.40" x2="154.16" y2="494.70" stroke="#000" stroke-width="1.35"/>
<line x1="161.29" y1="490.40" x2="161.29" y2="494.70" stroke="#000" stroke-width="1.35"/>
<line x1="168.41" y1="490.40" x2="168.41" y2="494.70" stroke="#000" stroke-width="1.35"/>
<line x1="175.53" y1="485.70" x2="175.53" y2="495.40" stroke="#000" stroke-width="1.35"/>
<line x1="182.65" y1="490.40" x2="182.65" y2="494.70" stroke="#000" stroke-width="1.35"/>
<line x1="189.77" y1="490.40" x2="189.77" y2="494.70" stroke="#000" stroke-width="1.35"/>
<line x1="196.90" y1="490.40" x2="196.90" y2="494.70" stroke="#000" stroke-width="1.35"/>
<line x1="204.02" y1="490.40" x2="204.02" y2="494.70" stroke="#000" stroke-width="1.35"/>
<line x1="211.14" y1="485.70" x2="211.14" y2="495.40" stroke="#000" stroke-width="1.35"/>
<line x1="218.26" y1="490.40" x2="218.26" y2="494.70" stroke="#000" stroke-width="1.35"/>
<line x1="225.38" y1="490.40" x2="225.38" y2="494.70" stroke="#000" stroke-width="1.35"/>
<line x1="232.51" y1="490.40" x2="232.51" y2="494.70" stroke="#000" stroke-width="1.35"/>
<line x1="239.63" y1="490.40" x2="239.63" y2="494.70" stroke="#000" stroke-width="1.35"/>
<line x1="246.75" y1="485.70" x2="246.75" y2="495.40" stroke="#000" stroke-width="1.35"/>
<line x1="253.87" y1="490.40" x2="253.87" y2="494.70" stroke="#000" stroke-width="1.35"/>
<line x1="260.99" y1="490.40" x2="260.99" y2="494.70" stroke="#000" stroke-width="1.35"/>
<line x1="268.12" y1="490.40" x2="268.12" y2="494.70" stroke="#000" stroke-width="1.35"/>
<line x1="275.24" y1="490.40" x2="275.24" y2="494.70" stroke="#000" stroke-width="1.35"/>
<line x1="282.36" y1="485.70" x2="282.36" y2="495.40" stroke="#000" stroke-width="1.35"/>
<line x1="289.48" y1="490.40" x2="289.48" y2="494.70" stroke="#000" stroke-width="1.35"/>
<line x1="296.60" y1="490.40" x2="296.60" y2="494.70" stroke="#000" stroke-width="1.35"/>
<line x1="303.73" y1="490.40" x2="303.73" y2="494.70" stroke="#000" stroke-width="1.35"/>
<line x1="310.85" y1="490.40" x2="310.85" y2="494.70" stroke="#000" stroke-width="1.35"/>
<line x1="317.97" y1="485.70" x2="317.97" y2="495.40" stroke="#000" stroke-width="1.35"/>
<line x1="325.09" y1="490.40" x2="325.09" y2="494.70" stroke="#000" stroke-width="1.35"/>
<line x1="332.21" y1="490.40" x2="332.21" y2="494.70" stroke="#000" stroke-width="1.35"/>
<line x1="339.34" y1="490.40" x2="339.34" y2="494.70" stroke="#000" stroke-width="1.35"/>
<line x1="346.46" y1="490.40" x2="346.46" y2="494.70" stroke="#000" stroke-width="1.35"/>
<line x1="353.58" y1="485.70" x2="353.58" y2="495.40" stroke="#000" stroke-width="1.35"/>
<line x1="360.70" y1="490.40" x2="360.70" y2="494.70" stroke="#000" stroke-width="1.35"/>
<text class="tl" x="54.6" y="495.00" text-anchor="end">0</text>
<text class="tl" x="54.6" y="463.80" text-anchor="end">10</text>
<text class="tl" x="54.6" y="432.60" text-anchor="end">20</text>
<text class="tl" x="54.6" y="401.40" text-anchor="end">30</text>
<text class="tl" x="54.6" y="370.20" text-anchor="end">40</text>
<text class="tl" x="54.6" y="339.00" text-anchor="end">50</text>
<text class="tl" x="54.6" y="307.80" text-anchor="end">60</text>
<text class="tl" x="54.6" y="276.60" text-anchor="end">70</text>
<text class="tl" x="68.70" y="515.90" text-anchor="middle">0</text>
<text class="tl" x="104.31" y="515.90" text-anchor="middle">0.05</text>
<text class="tl" x="139.92" y="515.90" text-anchor="middle">0.1</text>
<text class="tl" x="175.53" y="515.90" text-anchor="middle">0.15</text>
<text class="tl" x="211.14" y="515.90" text-anchor="middle">0.2</text>
<text class="tl" x="246.75" y="515.90" text-anchor="middle">0.25</text>
<text class="tl" x="282.36" y="515.90" text-anchor="middle">0.3</text>
<text class="tl" x="317.97" y="515.90" text-anchor="middle">0.35</text>
<text class="tl" x="353.58" y="515.90" text-anchor="middle">0.4</text>
<path d="M68.70 490.40 L68.70 490.36 L68.72 490.26 L68.74 490.09 L68.78 489.85 L68.82 489.54 L68.88 489.18 L68.94 488.75 L69.02 488.25 L69.10 487.70 L69.19 487.09 L69.30 486.42 L69.41 485.69 L69.54 484.91 L69.67 484.07 L69.81 483.19 L69.97 482.25 L70.13 481.26 L70.30 480.23 L70.49 479.16 L70.68 478.04 L70.88 476.88 L71.09 475.68 L71.32 474.44 L71.55 473.17 L71.79 471.86 L72.04 470.53 L72.31 469.16 L72.58 467.77 L72.86 466.36 L73.15 464.91 L73.45 463.45 L73.76 461.97 L74.09 460.47 L74.42 458.95 L74.76 457.42 L75.11 455.88 L75.47 454.33 L75.84 452.76 L76.22 451.19 L76.61 449.61 L77.01 448.03 L77.42 446.44 L77.84 444.85 L78.28 443.26 L78.72 441.67 L79.17 440.08 L79.63 438.49 L80.10 436.90 L80.57 435.32 L81.06 433.75 L81.56 432.18 L82.07 430.62 L82.59 429.06 L83.12 427.52 L83.66 425.98 L84.21 424.46 L84.77 422.94 L85.34 421.44 L85.92 419.95 L86.51 418.47 L87.10 417.00 L87.71 415.54 L88.33 414.10 L88.96 412.67 L89.60 411.26 L90.24 409.86 L90.90 408.48 L91.57 407.11 L92.25 405.75 L92.93 404.41 L93.63 403.09 L94.34 401.78 L95.06 400.48 L95.78 399.21 L96.52 397.94 L97.27 396.70 L98.02 395.47 L98.79 394.25 L99.57 393.05 L100.35 391.87 L101.15 390.70 L101.96 389.54 L102.77 388.41 L103.60 387.29 L104.43 386.18 L105.28 385.09 L106.14 384.01 L107.00 382.95 L107.88 381.90 L108.76 380.87 L109.66 379.86 L110.56 378.85 L111.48 377.86 L112.40 376.89 L113.34 375.93 L114.28 374.99 L115.24 374.05 L116.20 373.14 L117.17 372.23 L118.16 371.34 L119.15 370.46 L120.16 369.60 L121.17 368.74 L122.19 367.90 L123.23 367.08 L124.27 366.26 L125.32 365.46 L126.39 364.67 L127.46 363.89 L128.54 363.12 L129.64 362.36 L130.74 361.62 L131.85 360.89 L132.98 360.16 L134.11 359.45 L135.25 358.75 L136.40 358.06 L137.57 357.38 L138.74 356.71 L139.92 356.05 L141.11 355.40 L142.31 354.76 L143.53 354.13 L144.75 353.50 L145.98 352.89 L147.22 352.29 L148.47 351.69 L149.73 351.11 L151.00 350.53 L152.28 349.96 L153.58 349.40 L154.88 348.85 L156.19 348.31 L157.51 347.77 L158.84 347.24 L160.18 346.72 L161.53 346.21 L162.89 345.70 L164.26 345.20 L165.64 344.71 L167.03 344.23 L168.43 343.75 L169.84 343.28 L171.26 342.82 L172.69 342.36 L174.13 341.91 L175.57 341.47 L177.03 341.03 L178.50 340.60 L179.98 340.17 L181.47 339.76 L182.97 339.34 L184.48 338.93 L186.00 338.53 L187.52 338.14 L189.06 337.75 L190.61 337.36 L192.17 336.98 L193.74 336.61 L195.31 336.24 L196.90 335.87 L198.50 335.51 L200.11 335.16 L201.72 334.81 L203.35 334.46 L204.99 334.12 L206.63 333.79 L208.29 333.46 L209.96 333.13 L211.63 332.81 L213.32 332.49 L215.02 332.18 L216.72 331.87 L218.44 331.56 L220.17 331.26 L221.90 330.96 L223.65 330.67 L225.40 330.38 L227.17 330.09 L228.94 329.81 L230.73 329.53 L232.53 329.25 L234.33 328.98 L236.15 328.71 L237.97 328.45 L239.81 328.19 L241.65 327.93 L243.51 327.68 L245.37 327.42 L247.24 327.18 L249.13 326.93 L251.02 326.69 L252.93 326.45 L254.84 326.21 L256.77 325.98 L258.70 325.75 L260.64 325.52 L262.60 325.30 L264.56 325.07 L266.53 324.85 L268.52 324.64 L270.51 324.42 L272.51 324.21 L274.53 324.00 L276.55 323.80 L278.58 323.59 L280.62 323.39 L282.68 323.19 L284.74 323.00 L286.81 322.80 L288.89 322.61 L290.99 322.42 L293.09 322.23 L295.20 322.05 L297.32 321.86 L299.45 321.68 L301.59 321.50 L303.75 321.33 L305.91 321.15 L308.08 320.98 L310.26 320.81 L312.45 320.64 L314.65 320.47 L316.86 320.30 L319.08 320.14 L321.31 319.98 L323.55 319.82 L325.80 319.66 L328.06 319.51 L330.33 319.35 L332.61 319.20 L334.90 319.05 L337.20 318.90 L339.51 318.75 L341.83 318.60 L344.16 318.46 L346.50 318.32 L348.85 318.17 L351.21 318.03 L353.58 317.90" fill="none" stroke="#000" stroke-width="2.0" stroke-linejoin="round"/>
<path d="M68.70 490.40 L68.70 490.36 L68.72 490.24 L68.74 490.05 L68.78 489.78 L68.82 489.45 L68.88 489.05 L68.94 488.58 L69.02 488.05 L69.10 487.46 L69.19 486.80 L69.30 486.09 L69.41 485.32 L69.54 484.50 L69.67 483.62 L69.81 482.69 L69.97 481.71 L70.13 480.69 L70.30 479.62 L70.49 478.51 L70.68 477.36 L70.88 476.17 L71.09 474.95 L71.32 473.69 L71.55 472.40 L71.79 471.09 L72.04 469.75 L72.31 468.38 L72.58 467.00 L72.86 465.59 L73.15 464.17 L73.45 462.73 L73.76 461.27 L74.09 459.81 L74.42 458.33 L74.76 456.85 L75.11 455.36 L75.47 453.86 L75.84 452.36 L76.22 450.86 L76.61 449.36 L77.01 447.86 L77.42 446.36 L77.84 444.86 L78.28 443.37 L78.72 441.88 L79.17 440.40 L79.63 438.93 L80.10 437.46 L80.57 436.01 L81.06 434.56 L81.56 433.13 L82.07 431.70 L82.59 430.29 L83.12 428.89 L83.66 427.50 L84.21 426.13 L84.77 424.77 L85.34 423.42 L85.92 422.09 L86.51 420.78 L87.10 419.47 L87.71 418.19 L88.33 416.92 L88.96 415.66 L89.60 414.42 L90.24 413.20 L90.90 411.99 L91.57 410.80 L92.25 409.62 L92.93 408.46 L93.63 407.32 L94.34 406.19 L95.06 405.08 L95.78 403.99 L96.52 402.91 L97.27 401.84 L98.02 400.80 L98.79 399.76 L99.57 398.75 L100.35 397.75 L101.15 396.76 L101.96 395.79 L102.77 394.83 L103.60 393.89 L104.43 392.97 L105.28 392.06 L106.14 391.16 L107.00 390.28 L107.88 389.41 L108.76 388.55 L109.66 387.71 L110.56 386.88 L111.48 386.07 L112.40 385.26 L113.34 384.48 L114.28 383.70 L115.24 382.94 L116.20 382.18 L117.17 381.44 L118.16 380.72 L119.15 380.00 L120.16 379.30 L121.17 378.61 L122.19 377.92 L123.23 377.25 L124.27 376.59 L125.32 375.95 L126.39 375.31 L127.46 374.68 L128.54 374.06 L129.64 373.45 L130.74 372.85 L131.85 372.27 L132.98 371.69 L134.11 371.12 L135.25 370.56 L136.40 370.00 L137.57 369.46 L138.74 368.93 L139.92 368.40 L141.11 367.88 L142.31 367.37 L143.53 366.87 L144.75 366.38 L145.98 365.89 L147.22 365.42 L148.47 364.95 L149.73 364.48 L151.00 364.03 L152.28 363.58 L153.58 363.14 L154.88 362.70 L156.19 362.27 L157.51 361.85 L158.84 361.44 L160.18 361.03 L161.53 360.63 L162.89 360.23 L164.26 359.84 L165.64 359.45 L167.03 359.08 L168.43 358.70 L169.84 358.33 L171.26 357.97 L172.69 357.62 L174.13 357.27 L175.57 356.92 L177.03 356.58 L178.50 356.24 L179.98 355.91 L181.47 355.59 L182.97 355.26 L184.48 354.95 L186.00 354.64 L187.52 354.33 L189.06 354.02 L190.61 353.73 L192.17 353.43 L193.74 353.14 L195.31 352.86 L196.90 352.57 L198.50 352.29 L200.11 352.02 L201.72 351.75 L203.35 351.48 L204.99 351.22 L206.63 350.96 L208.29 350.71 L209.96 350.45 L211.63 350.21 L213.32 349.96 L215.02 349.72 L216.72 349.48 L218.44 349.24 L220.17 349.01 L221.90 348.78 L223.65 348.56 L225.40 348.34 L227.17 348.12 L228.94 347.90 L230.73 347.68 L232.53 347.47 L234.33 347.26 L236.15 347.06 L237.97 346.86 L239.81 346.65 L241.65 346.46 L243.51 346.26 L245.37 346.07 L247.24 345.88 L249.13 345.69 L251.02 345.51 L252.93 345.32 L254.84 345.14 L256.77 344.96 L258.70 344.79 L260.64 344.61 L262.60 344.44 L264.56 344.27 L266.53 344.10 L268.52 343.94 L270.51 343.77 L272.51 343.61 L274.53 343.45 L276.55 343.30 L278.58 343.14 L280.62 342.99 L282.68 342.84 L284.74 342.69 L286.81 342.54 L288.89 342.39 L290.99 342.25 L293.09 342.10 L295.20 341.96 L297.32 341.82 L299.45 341.68 L301.59 341.55 L303.75 341.41 L305.91 341.28 L308.08 341.15 L310.26 341.02 L312.45 340.89 L314.65 340.76 L316.86 340.64 L319.08 340.51 L321.31 340.39 L323.55 340.27 L325.80 340.15 L328.06 340.03 L330.33 339.91 L332.61 339.79 L334.90 339.68 L337.20 339.57 L339.51 339.45 L341.83 339.34 L344.16 339.23 L346.50 339.12 L348.85 339.02 L351.21 338.91 L353.58 338.81" fill="none" stroke="#000" stroke-width="2.0" stroke-linejoin="round"/>
<path d="M68.70 490.40 L68.70 490.37 L68.72 490.27 L68.74 490.12 L68.78 489.90 L68.82 489.63 L68.88 489.30 L68.94 488.92 L69.02 488.48 L69.10 487.99 L69.19 487.45 L69.30 486.86 L69.41 486.22 L69.54 485.54 L69.67 484.81 L69.81 484.04 L69.97 483.24 L70.13 482.39 L70.30 481.51 L70.49 480.60 L70.68 479.66 L70.88 478.68 L71.09 477.68 L71.32 476.66 L71.55 475.61 L71.79 474.54 L72.04 473.46 L72.31 472.36 L72.58 471.24 L72.86 470.11 L73.15 468.97 L73.45 467.81 L73.76 466.66 L74.09 465.49 L74.42 464.32 L74.76 463.15 L75.11 461.98 L75.47 460.80 L75.84 459.63 L76.22 458.46 L76.61 457.29 L77.01 456.13 L77.42 454.97 L77.84 453.82 L78.28 452.67 L78.72 451.54 L79.17 450.41 L79.63 449.29 L80.10 448.18 L80.57 447.08 L81.06 446.00 L81.56 444.92 L82.07 443.86 L82.59 442.80 L83.12 441.76 L83.66 440.74 L84.21 439.73 L84.77 438.73 L85.34 437.74 L85.92 436.77 L86.51 435.81 L87.10 434.86 L87.71 433.93 L88.33 433.02 L88.96 432.11 L89.60 431.22 L90.24 430.35 L90.90 429.49 L91.57 428.64 L92.25 427.81 L92.93 426.99 L93.63 426.18 L94.34 425.39 L95.06 424.61 L95.78 423.84 L96.52 423.09 L97.27 422.35 L98.02 421.62 L98.79 420.91 L99.57 420.20 L100.35 419.51 L101.15 418.84 L101.96 418.17 L102.77 417.52 L103.60 416.87 L104.43 416.24 L105.28 415.62 L106.14 415.01 L107.00 414.42 L107.88 413.83 L108.76 413.25 L109.66 412.69 L110.56 412.13 L111.48 411.59 L112.40 411.05 L113.34 410.52 L114.28 410.01 L115.24 409.50 L116.20 409.00 L117.17 408.51 L118.16 408.03 L119.15 407.56 L120.16 407.10 L121.17 406.64 L122.19 406.19 L123.23 405.75 L124.27 405.32 L125.32 404.90 L126.39 404.48 L127.46 404.07 L128.54 403.67 L129.64 403.28 L130.74 402.89 L131.85 402.51 L132.98 402.14 L134.11 401.77 L135.25 401.41 L136.40 401.05 L137.57 400.70 L138.74 400.36 L139.92 400.02 L141.11 399.69 L142.31 399.37 L143.53 399.05 L144.75 398.73 L145.98 398.43 L147.22 398.12 L148.47 397.82 L149.73 397.53 L151.00 397.24 L152.28 396.96 L153.58 396.68 L154.88 396.40 L156.19 396.13 L157.51 395.87 L158.84 395.61 L160.18 395.35 L161.53 395.10 L162.89 394.85 L164.26 394.60 L165.64 394.36 L167.03 394.13 L168.43 393.89 L169.84 393.66 L171.26 393.44 L172.69 393.22 L174.13 393.00 L175.57 392.78 L177.03 392.57 L178.50 392.36 L179.98 392.16 L181.47 391.96 L182.97 391.76 L184.48 391.56 L186.00 391.37 L187.52 391.18 L189.06 390.99 L190.61 390.81 L192.17 390.63 L193.74 390.45 L195.31 390.27 L196.90 390.10 L198.50 389.93 L200.11 389.76 L201.72 389.59 L203.35 389.43 L204.99 389.27 L206.63 389.11 L208.29 388.95 L209.96 388.80 L211.63 388.65 L213.32 388.50 L215.02 388.35 L216.72 388.21 L218.44 388.06 L220.17 387.92 L221.90 387.78 L223.65 387.65 L225.40 387.51 L227.17 387.38 L228.94 387.25 L230.73 387.12 L232.53 386.99 L234.33 386.86 L236.15 386.74 L237.97 386.61 L239.81 386.49 L241.65 386.37 L243.51 386.26 L245.37 386.14 L247.24 386.02 L249.13 385.91 L251.02 385.80 L252.93 385.69 L254.84 385.58 L256.77 385.47 L258.70 385.37 L260.64 385.26 L262.60 385.16 L264.56 385.06 L266.53 384.96 L268.52 384.86 L270.51 384.76 L272.51 384.66 L274.53 384.57 L276.55 384.47 L278.58 384.38 L280.62 384.29 L282.68 384.20 L284.74 384.11 L286.81 384.02 L288.89 383.93 L290.99 383.85 L293.09 383.76 L295.20 383.68 L297.32 383.59 L299.45 383.51 L301.59 383.43 L303.75 383.35 L305.91 383.27 L308.08 383.19 L310.26 383.11 L312.45 383.04 L314.65 382.96 L316.86 382.89 L319.08 382.81 L321.31 382.74 L323.55 382.67 L325.80 382.60 L328.06 382.53 L330.33 382.46 L332.61 382.39 L334.90 382.32 L337.20 382.25 L339.51 382.19 L341.83 382.12 L344.16 382.06 L346.50 381.99 L348.85 381.93 L351.21 381.87 L353.58 381.80" fill="none" stroke="#000" stroke-width="2.0" stroke-linejoin="round"/>
<path d="M68.70 490.40 L68.70 490.33 L68.72 490.17 L68.74 489.91 L68.78 489.57 L68.82 489.15 L68.88 488.65 L68.94 488.09 L69.02 487.46 L69.10 486.77 L69.19 486.02 L69.30 485.22 L69.41 484.37 L69.54 483.47 L69.67 482.53 L69.81 481.55 L69.97 480.53 L70.13 479.48 L70.30 478.40 L70.49 477.29 L70.68 476.16 L70.88 475.00 L71.09 473.83 L71.32 472.64 L71.55 471.44 L71.79 470.23 L72.04 469.01 L72.31 467.79 L72.58 466.56 L72.86 465.33 L73.15 464.10 L73.45 462.87 L73.76 461.64 L74.09 460.42 L74.42 459.20 L74.76 457.99 L75.11 456.79 L75.47 455.60 L75.84 454.42 L76.22 453.25 L76.61 452.09 L77.01 450.94 L77.42 449.81 L77.84 448.69 L78.28 447.59 L78.72 446.50 L79.17 445.42 L79.63 444.36 L80.10 443.32 L80.57 442.29 L81.06 441.28 L81.56 440.28 L82.07 439.30 L82.59 438.34 L83.12 437.39 L83.66 436.46 L84.21 435.54 L84.77 434.64 L85.34 433.76 L85.92 432.89 L86.51 432.04 L87.10 431.20 L87.71 430.38 L88.33 429.58 L88.96 428.79 L89.60 428.01 L90.24 427.25 L90.90 426.51 L91.57 425.77 L92.25 425.06 L92.93 424.35 L93.63 423.66 L94.34 422.98 L95.06 422.32 L95.78 421.67 L96.52 421.03 L97.27 420.40 L98.02 419.79 L98.79 419.19 L99.57 418.60 L100.35 418.02 L101.15 417.45 L101.96 416.90 L102.77 416.35 L103.60 415.82 L104.43 415.29 L105.28 414.78 L106.14 414.27 L107.00 413.78 L107.88 413.29 L108.76 412.82 L109.66 412.35 L110.56 411.90 L111.48 411.45 L112.40 411.01 L113.34 410.58 L114.28 410.15 L115.24 409.74 L116.20 409.33 L117.17 408.93 L118.16 408.54 L119.15 408.15 L120.16 407.77 L121.17 407.40 L122.19 407.04 L123.23 406.68 L124.27 406.33 L125.32 405.99 L126.39 405.65 L127.46 405.32 L128.54 404.99 L129.64 404.68 L130.74 404.36 L131.85 404.05 L132.98 403.75 L134.11 403.45 L135.25 403.16 L136.40 402.88 L137.57 402.59 L138.74 402.32 L139.92 402.05 L141.11 401.78 L142.31 401.52 L143.53 401.26 L144.75 401.00 L145.98 400.76 L147.22 400.51 L148.47 400.27 L149.73 400.03 L151.00 399.80 L152.28 399.57 L153.58 399.35 L154.88 399.13 L156.19 398.91 L157.51 398.69 L158.84 398.48 L160.18 398.28 L161.53 398.07 L162.89 397.87 L164.26 397.68 L165.64 397.48 L167.03 397.29 L168.43 397.10 L169.84 396.92 L171.26 396.74 L172.69 396.56 L174.13 396.38 L175.57 396.21 L177.03 396.04 L178.50 395.87 L179.98 395.71 L181.47 395.54 L182.97 395.38 L184.48 395.23 L186.00 395.07 L187.52 394.92 L189.06 394.77 L190.61 394.62 L192.17 394.47 L193.74 394.33 L195.31 394.18 L196.90 394.04 L198.50 393.91 L200.11 393.77 L201.72 393.64 L203.35 393.51 L204.99 393.38 L206.63 393.25 L208.29 393.12 L209.96 393.00 L211.63 392.87 L213.32 392.75 L215.02 392.63 L216.72 392.52 L218.44 392.40 L220.17 392.28 L221.90 392.17 L223.65 392.06 L225.40 391.95 L227.17 391.84 L228.94 391.74 L230.73 391.63 L232.53 391.53 L234.33 391.42 L236.15 391.32 L237.97 391.22 L239.81 391.12 L241.65 391.03 L243.51 390.93 L245.37 390.84 L247.24 390.74 L249.13 390.65 L251.02 390.56 L252.93 390.47 L254.84 390.38 L256.77 390.29 L258.70 390.21 L260.64 390.12 L262.60 390.04 L264.56 389.96 L266.53 389.87 L268.52 389.79 L270.51 389.71 L272.51 389.63 L274.53 389.56 L276.55 389.48 L278.58 389.40 L280.62 389.33 L282.68 389.25 L284.74 389.18 L286.81 389.11 L288.89 389.03 L290.99 388.96 L293.09 388.89 L295.20 388.82 L297.32 388.76 L299.45 388.69 L301.59 388.62 L303.75 388.56 L305.91 388.49 L308.08 388.43 L310.26 388.36 L312.45 388.30 L314.65 388.24 L316.86 388.18 L319.08 388.12 L321.31 388.06 L323.55 388.00 L325.80 387.94 L328.06 387.88 L330.33 387.82 L332.61 387.77 L334.90 387.71 L337.20 387.65 L339.51 387.60 L341.83 387.54 L344.16 387.49 L346.50 387.44 L348.85 387.39 L351.21 387.33 L353.58 387.28" fill="none" stroke="#000" stroke-width="2.0" stroke-linejoin="round"/>
<path d="M68.70 490.40 L68.70 490.30 L68.72 490.04 L68.74 489.65 L68.78 489.16 L68.82 488.56 L68.88 487.86 L68.94 487.09 L69.02 486.23 L69.10 485.31 L69.19 484.32 L69.30 483.28 L69.41 482.20 L69.54 481.07 L69.67 479.91 L69.81 478.72 L69.97 477.51 L70.13 476.27 L70.30 475.03 L70.49 473.77 L70.68 472.51 L70.88 471.25 L71.09 469.99 L71.32 468.73 L71.55 467.49 L71.79 466.25 L72.04 465.02 L72.31 463.81 L72.58 462.62 L72.86 461.44 L73.15 460.28 L73.45 459.14 L73.76 458.02 L74.09 456.92 L74.42 455.84 L74.76 454.78 L75.11 453.75 L75.47 452.74 L75.84 451.75 L76.22 450.78 L76.61 449.84 L77.01 448.92 L77.42 448.02 L77.84 447.14 L78.28 446.29 L78.72 445.45 L79.17 444.64 L79.63 443.84 L80.10 443.07 L80.57 442.32 L81.06 441.59 L81.56 440.87 L82.07 440.18 L82.59 439.50 L83.12 438.84 L83.66 438.20 L84.21 437.57 L84.77 436.96 L85.34 436.37 L85.92 435.79 L86.51 435.23 L87.10 434.68 L87.71 434.15 L88.33 433.63 L88.96 433.12 L89.60 432.63 L90.24 432.15 L90.90 431.68 L91.57 431.23 L92.25 430.78 L92.93 430.35 L93.63 429.93 L94.34 429.52 L95.06 429.12 L95.78 428.73 L96.52 428.35 L97.27 427.97 L98.02 427.61 L98.79 427.26 L99.57 426.91 L100.35 426.58 L101.15 426.25 L101.96 425.93 L102.77 425.62 L103.60 425.31 L104.43 425.01 L105.28 424.72 L106.14 424.44 L107.00 424.16 L107.88 423.89 L108.76 423.63 L109.66 423.37 L110.56 423.12 L111.48 422.87 L112.40 422.63 L113.34 422.39 L114.28 422.16 L115.24 421.94 L116.20 421.72 L117.17 421.50 L118.16 421.29 L119.15 421.08 L120.16 420.88 L121.17 420.68 L122.19 420.49 L123.23 420.30 L124.27 420.12 L125.32 419.94 L126.39 419.76 L127.46 419.58 L128.54 419.41 L129.64 419.25 L130.74 419.08 L131.85 418.92 L132.98 418.77 L134.11 418.61 L135.25 418.46 L136.40 418.31 L137.57 418.17 L138.74 418.03 L139.92 417.89 L141.11 417.75 L142.31 417.62 L143.53 417.49 L144.75 417.36 L145.98 417.23 L147.22 417.11 L148.47 416.99 L149.73 416.87 L151.00 416.75 L152.28 416.63 L153.58 416.52 L154.88 416.41 L156.19 416.30 L157.51 416.19 L158.84 416.09 L160.18 415.99 L161.53 415.88 L162.89 415.79 L164.26 415.69 L165.64 415.59 L167.03 415.50 L168.43 415.40 L169.84 415.31 L171.26 415.22 L172.69 415.13 L174.13 415.05 L175.57 414.96 L177.03 414.88 L178.50 414.80 L179.98 414.72 L181.47 414.64 L182.97 414.56 L184.48 414.48 L186.00 414.40 L187.52 414.33 L189.06 414.26 L190.61 414.18 L192.17 414.11 L193.74 414.04 L195.31 413.97 L196.90 413.90 L198.50 413.84 L200.11 413.77 L201.72 413.71 L203.35 413.64 L204.99 413.58 L206.63 413.52 L208.29 413.46 L209.96 413.40 L211.63 413.34 L213.32 413.28 L215.02 413.22 L216.72 413.17 L218.44 413.11 L220.17 413.06 L221.90 413.00 L223.65 412.95 L225.40 412.89 L227.17 412.84 L228.94 412.79 L230.73 412.74 L232.53 412.69 L234.33 412.64 L236.15 412.59 L237.97 412.55 L239.81 412.50 L241.65 412.45 L243.51 412.41 L245.37 412.36 L247.24 412.32 L249.13 412.27 L251.02 412.23 L252.93 412.19 L254.84 412.15 L256.77 412.10 L258.70 412.06 L260.64 412.02 L262.60 411.98 L264.56 411.94 L266.53 411.90 L268.52 411.87 L270.51 411.83 L272.51 411.79 L274.53 411.75 L276.55 411.72 L278.58 411.68 L280.62 411.65 L282.68 411.61 L284.74 411.58 L286.81 411.54 L288.89 411.51 L290.99 411.47 L293.09 411.44 L295.20 411.41 L297.32 411.38 L299.45 411.34 L301.59 411.31 L303.75 411.28 L305.91 411.25 L308.08 411.22 L310.26 411.19 L312.45 411.16 L314.65 411.13 L316.86 411.10 L319.08 411.07 L321.31 411.05 L323.55 411.02 L325.80 410.99 L328.06 410.96 L330.33 410.94 L332.61 410.91 L334.90 410.88 L337.20 410.86 L339.51 410.83 L341.83 410.81 L344.16 410.78 L346.50 410.76 L348.85 410.73 L351.21 410.71 L353.58 410.68" fill="none" stroke="#000" stroke-width="2.0" stroke-linejoin="round"/>
<circle cx="68.70" cy="490.40" r="3.95" fill="#000"/>
<circle cx="73.15" cy="470.74" r="3.95" fill="#000"/>
<circle cx="77.60" cy="447.03" r="3.95" fill="#000"/>
<circle cx="86.51" cy="426.13" r="3.95" fill="#000"/>
<circle cx="104.31" cy="374.96" r="3.95" fill="#000"/>
<circle cx="139.92" cy="347.50" r="3.95" fill="#000"/>
<circle cx="211.14" cy="337.83" r="3.95" fill="#000"/>
<circle cx="282.36" cy="329.72" r="3.95" fill="#000"/>
<circle cx="353.58" cy="316.93" r="3.95" fill="#000"/>
<rect x="65.25" y="487.05" width="6.9" height="6.7" fill="#fff" stroke="#000" stroke-width="1.9"/>
<rect x="69.70" y="473.63" width="6.9" height="6.7" fill="#fff" stroke="#000" stroke-width="1.9"/>
<rect x="74.15" y="458.03" width="6.9" height="6.7" fill="#fff" stroke="#000" stroke-width="1.9"/>
<rect x="83.06" y="422.15" width="6.9" height="6.7" fill="#fff" stroke="#000" stroke-width="1.9"/>
<rect x="100.86" y="379.41" width="6.9" height="6.7" fill="#fff" stroke="#000" stroke-width="1.9"/>
<rect x="136.47" y="358.51" width="6.9" height="6.7" fill="#fff" stroke="#000" stroke-width="1.9"/>
<rect x="207.69" y="339.79" width="6.9" height="6.7" fill="#fff" stroke="#000" stroke-width="1.9"/>
<rect x="278.91" y="356.32" width="6.9" height="6.7" fill="#fff" stroke="#000" stroke-width="1.9"/>
<rect x="350.13" y="334.48" width="6.9" height="6.7" fill="#fff" stroke="#000" stroke-width="1.9"/>
<path d="M68.70 485.40L73.25 494.50L64.15 494.50Z" fill="#000"/>
<path d="M73.15 471.36L77.70 480.46L68.60 480.46Z" fill="#000"/>
<path d="M77.60 451.08L82.15 460.18L73.05 460.18Z" fill="#000"/>
<path d="M86.51 424.56L91.06 433.66L81.96 433.66Z" fill="#000"/>
<path d="M104.31 409.58L108.86 418.68L99.76 418.68Z" fill="#000"/>
<path d="M139.92 407.40L144.47 416.50L135.37 416.50Z" fill="#000"/>
<path d="M211.14 390.24L215.69 399.34L206.59 399.34Z" fill="#000"/>
<path d="M282.36 371.52L286.91 380.62L277.81 380.62Z" fill="#000"/>
<path d="M353.58 377.45L358.13 386.55L349.03 386.55Z" fill="#000"/>
<path d="M68.70 485.85L72.85 490.40L68.70 494.95L64.55 490.40Z" fill="#fff" stroke="#000" stroke-width="1.7"/>
<path d="M73.15 472.43L77.30 476.98L73.15 481.53L69.00 476.98Z" fill="#fff" stroke="#000" stroke-width="1.7"/>
<path d="M77.60 450.59L81.75 455.14L77.60 459.69L73.45 455.14Z" fill="#fff" stroke="#000" stroke-width="1.7"/>
<path d="M86.51 421.89L90.66 426.44L86.51 430.99L82.36 426.44Z" fill="#fff" stroke="#000" stroke-width="1.7"/>
<path d="M104.31 405.04L108.46 409.59L104.31 414.14L100.16 409.59Z" fill="#fff" stroke="#000" stroke-width="1.7"/>
<path d="M139.92 406.60L144.07 411.15L139.92 415.70L135.77 411.15Z" fill="#fff" stroke="#000" stroke-width="1.7"/>
<path d="M211.14 394.43L215.29 398.98L211.14 403.53L206.99 398.98Z" fill="#fff" stroke="#000" stroke-width="1.7"/>
<path d="M282.36 382.89L286.51 387.44L282.36 391.99L278.21 387.44Z" fill="#fff" stroke="#000" stroke-width="1.7"/>
<path d="M353.58 378.52L357.73 383.07L353.58 387.62L349.43 383.07Z" fill="#fff" stroke="#000" stroke-width="1.7"/>
<rect x="65.05" y="485.98" width="7.3" height="7.6" fill="#000"/>
<rect x="69.50" y="468.19" width="7.3" height="7.6" fill="#000"/>
<rect x="73.95" y="442.30" width="7.3" height="7.6" fill="#000"/>
<rect x="82.86" y="434.18" width="7.3" height="7.6" fill="#000"/>
<rect x="100.66" y="420.14" width="7.3" height="7.6" fill="#000"/>
<rect x="136.27" y="416.40" width="7.3" height="7.6" fill="#000"/>
<rect x="207.49" y="414.22" width="7.3" height="7.6" fill="#000"/>
<rect x="278.71" y="404.54" width="7.3" height="7.6" fill="#000"/>
<rect x="349.93" y="405.48" width="7.3" height="7.6" fill="#000"/>
<circle cx="193.9" cy="22.0" r="2.4" fill="#000"/>
<text class="lg" x="201.90" y="25.40">0 μM</text>
<rect x="237.3" y="20.5" width="4.5" height="4.3" fill="#fff" stroke="#000" stroke-width="0.9"/>
<text class="lg" x="245.60" y="25.40">1 μM</text>
<path d="M291.3 17.5 L295.3 25.3 L287.3 25.3Z" fill="#000"/>
<text class="lg" x="295.60" y="25.40">10 μM</text>
<path d="M192.65 32.2 L195.1 35.55 L192.65 38.9 L190.2 35.55Z" fill="#fff" stroke="#000" stroke-width="0.9"/>
<text class="lg" x="198.90" y="39.40">50 μM</text>
<rect x="237.1" y="34.4" width="4.8" height="4.9" fill="#000"/>
<text class="lg" x="246.10" y="39.40">150 μM</text>
<circle cx="290.1" cy="36.6" r="2.1" fill="#fff" stroke="#000" stroke-width="0.85"/>
<text class="lg" x="296.40" y="39.40">250 μM</text>
<circle cx="210.2" cy="282.4" r="2.3" fill="#000"/>
<text class="lg" x="219.00" y="285.80">0 μM</text>
<rect x="254.5" y="281.5" width="4.5" height="4.3" fill="#fff" stroke="#000" stroke-width="0.9"/>
<text class="lg" x="263.60" y="285.80">15 μM</text>
<path d="M315.3 277.8 L319.4 285.9 L311.2 285.9Z" fill="#000"/>
<text class="lg" x="319.50" y="285.80">30 μM</text>
<path d="M210.5 293.0 L212.9 296.25 L210.5 299.5 L208.1 296.25Z" fill="#fff" stroke="#000" stroke-width="0.9"/>
<text class="lg" x="215.90" y="300.20">75 μM</text>
<rect x="254.6" y="294.4" width="4.8" height="5.3" fill="#000"/>
<text class="lg" x="263.80" y="300.20">150 μM</text>
<text class="pl" x="72.6" y="34.2">A)</text>
<text class="pl" x="72.9" y="293.5" letter-spacing="-1.2" style="font-size:17.8px">B)</text>
<text class="at" x="122.6" y="541.6">[Spectrozyme PL] (mM)</text>
<text class="at" transform="translate(24.9 406.6) rotate(-90)" x="0" y="0"><tspan letter-spacing="0.18">Initial Rate of Hydrolysis </tspan><tspan class="nb" letter-spacing="1.45">(mAU/min)</tspan></text>
</svg>
</body></html>
